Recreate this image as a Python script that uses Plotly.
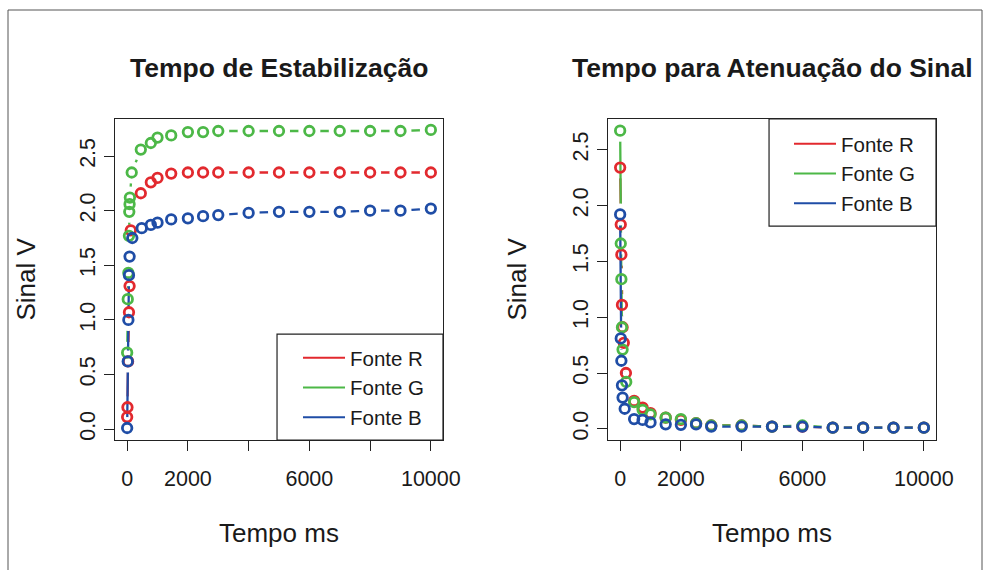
import plotly.graph_objects as go

# ---------------- data ----------------
series_names = ["Fonte R", "Fonte G", "Fonte B"]
colors = ["#E2292E", "#4CB847", "#1F4DA6"]

# Tempo de Estabilização
est_t_r = [0, 10, 30, 60, 80, 120, 450, 780, 1000, 1450, 2000, 2500, 3000, 4000, 5000, 6000, 7000, 8000, 9000, 10000]
est_v_r = [0.11, 0.20, 0.62, 1.07, 1.31, 1.82, 2.16, 2.26, 2.30, 2.34, 2.35, 2.35, 2.35, 2.35, 2.35, 2.35, 2.35, 2.35, 2.35, 2.35]
est_t_g = [0, 20, 40, 60, 70, 80, 90, 150, 450, 780, 1000, 1450, 2000, 2500, 3000, 4000, 5000, 6000, 7000, 8000, 9000, 10000]
est_v_g = [0.70, 1.19, 1.43, 1.77, 1.99, 2.06, 2.12, 2.35, 2.56, 2.62, 2.67, 2.69, 2.72, 2.72, 2.73, 2.73, 2.73, 2.73, 2.73, 2.73, 2.73, 2.74]
est_t_b = [0, 20, 40, 60, 80, 170, 480, 780, 1000, 1450, 2000, 2500, 3000, 4000, 5000, 6000, 7000, 8000, 9000, 10000]
est_v_b = [0.01, 0.62, 1.00, 1.41, 1.58, 1.75, 1.84, 1.87, 1.89, 1.92, 1.93, 1.95, 1.96, 1.98, 1.99, 1.99, 1.99, 2.00, 2.00, 2.02]

# Tempo para Atenuação do Sinal
ate_t_r = [0, 20, 40, 60, 80, 120, 190, 460, 740, 1000, 1500, 2000, 2500, 3000, 4000, 5000, 6000, 7000, 8000, 9000, 10000]
ate_v_r = [2.34, 1.83, 1.56, 1.11, 0.91, 0.77, 0.50, 0.25, 0.19, 0.14, 0.10, 0.08, 0.05, 0.03, 0.03, 0.02, 0.02, 0.01, 0.01, 0.01, 0.01]
ate_t_g = [0, 20, 40, 60, 80, 200, 460, 740, 1000, 1500, 2000, 2500, 3000, 4000, 5000, 6000, 7000, 8000, 9000, 10000]
ate_v_g = [2.67, 1.66, 1.34, 0.91, 0.71, 0.42, 0.24, 0.17, 0.13, 0.10, 0.087, 0.05, 0.03, 0.03, 0.02, 0.03, 0.01, 0.01, 0.01, 0.01]
ate_t_b = [0, 20, 40, 60, 80, 150, 460, 740, 1000, 1500, 2000, 2500, 3000, 4000, 5000, 6000, 7000, 8000, 9000, 10000]
ate_v_b = [1.92, 0.81, 0.61, 0.39, 0.28, 0.18, 0.087, 0.08, 0.057, 0.04, 0.036, 0.04, 0.02, 0.02, 0.02, 0.02, 0.01, 0.01, 0.01, 0.01]

x_tickvals = [0, 2000, 4000, 6000, 8000, 10000]
x_ticktext = ["0", "2000", "", "6000", "", "10000"]
y_tickvals = [0.0, 0.5, 1.0, 1.5, 2.0, 2.5]
y_ticktext = ["0.0", "0.5", "1.0", "1.5", "2.0", "2.5"]

titles = ["Tempo de Estabilização", "Tempo para Atenuação do Sinal"]
x_title = "Tempo ms"
y_title = "Sinal V"

# ---------------- figure ----------------
FONT = "Liberation Sans, Arial, sans-serif"
TXT = "#1a1a1a"
fig = go.Figure()

panels = [
    ("x", "y", [(est_t_r, est_v_r), (est_t_g, est_v_g), (est_t_b, est_v_b)], "legend"),
    ("x2", "y2", [(ate_t_r, ate_v_r), (ate_t_g, ate_v_g), (ate_t_b, ate_v_b)], "legend2"),
]

for xa, ya, data, leg in panels:
    # lines with white gaps around points (R type = "b")
    for (t, v), c in zip(data, colors):
        fig.add_trace(go.Scatter(x=t, y=v, mode="lines", line=dict(color=c, width=2.3),
                                 xaxis=xa, yaxis=ya, showlegend=False, hoverinfo="skip"))
        fig.add_trace(go.Scatter(x=t, y=v, mode="markers",
                                 marker=dict(color="white", size=22, line=dict(width=0)),
                                 xaxis=xa, yaxis=ya, showlegend=False, hoverinfo="skip"))
    for (t, v), c in zip(data, colors):
        fig.add_trace(go.Scatter(x=t, y=v, mode="markers",
                                 marker=dict(symbol="circle-open", color=c, size=9.5,
                                             line=dict(color=c, width=2.8)),
                                 xaxis=xa, yaxis=ya, showlegend=False))
    # legend-only entries
    for name, c in zip(series_names, colors):
        fig.add_trace(go.Scatter(x=[None], y=[None], mode="lines", name=name,
                                 line=dict(color=c, width=2),
                                 xaxis=xa, yaxis=ya, legend=leg, showlegend=True))

ydom = [1 - 440 / 570, 1 - 119 / 570]
axis_common = dict(showgrid=False, zeroline=False, showline=True, mirror=True,
                   linecolor="#222", linewidth=1.2, ticks="outside", ticklen=10,
                   tickcolor="#222", tickwidth=1.2,
                   tickfont=dict(family=FONT, size=21.5, color=TXT))

fig.update_layout(
    width=984, height=570, autosize=False,
    margin=dict(l=0, r=0, t=0, b=0, autoexpand=False),
    paper_bgcolor="white", plot_bgcolor="white",
    xaxis=dict(domain=[115 / 984, 443 / 984], range=[-400, 10400], anchor="y",
               tickvals=x_tickvals, ticktext=x_ticktext, ticklabelstandoff=9, **axis_common),
    yaxis=dict(domain=ydom, range=[-0.10, 2.84], anchor="x",
               tickvals=y_tickvals, ticktext=y_ticktext, tickangle=-90, **axis_common),
    xaxis2=dict(domain=[608 / 984, 936 / 984], range=[-400, 10400], anchor="y2",
                tickvals=x_tickvals, ticktext=x_ticktext, ticklabelstandoff=9, **axis_common),
    yaxis2=dict(domain=ydom, range=[-0.10, 2.775], anchor="x2",
                tickvals=y_tickvals, ticktext=y_ticktext, tickangle=-90, **axis_common),
    legend=dict(x=298 / 984, y=1 - 338 / 570, xanchor="left", yanchor="top",
                bgcolor="rgba(0,0,0,0)", borderwidth=0, itemwidth=42,
                font=dict(family=FONT, size=20.5, color=TXT)),
    legend2=dict(x=789 / 984, y=1 - 124 / 570, xanchor="left", yanchor="top",
                 bgcolor="rgba(0,0,0,0)", borderwidth=0, itemwidth=42,
                 font=dict(family=FONT, size=20.5, color=TXT)),
    showlegend=True,
)

# legend frames
fig.add_shape(type="rect", xref="x domain", yref="y domain", x0=0.494, x1=1.0, y0=0.0, y1=0.33,
              line=dict(color="#222", width=1.2), fillcolor="white", layer="below")
fig.add_shape(type="rect", xref="x2 domain", yref="y2 domain", x0=0.491, x1=1.0, y0=0.666, y1=1.0,
              line=dict(color="#222", width=1.2), fillcolor="white", layer="below")

# outer frame
fig.add_shape(type="rect", xref="paper", yref="paper", x0=8 / 984, x1=982 / 984, y0=-0.05, y1=1 - 10 / 570,
              line=dict(color="#555", width=1))

# titles and axis titles
for xd, title in [("x domain", titles[0]), ("x2 domain", titles[1])]:
    fig.add_annotation(text="<b>" + title + "</b>", xref=xd, yref="paper", x=0.5, y=1 - 68 / 570,
                       showarrow=False, xanchor="center", yanchor="middle",
                       font=dict(family=FONT, size=26.5, color=TXT))
    fig.add_annotation(text=x_title, xref=xd, yref="paper", x=0.5, y=1 - 533 / 570,
                       showarrow=False, xanchor="center", yanchor="middle",
                       font=dict(family=FONT, size=26, color=TXT))

fig.add_annotation(text=y_title, xref="paper", yref="y domain", x=25 / 984, y=0.5, textangle=-90,
                   showarrow=False, xanchor="center", yanchor="middle",
                   font=dict(family=FONT, size=26, color=TXT))
fig.add_annotation(text=y_title, xref="paper", yref="y2 domain", x=516 / 984, y=0.5, textangle=-90,
                   showarrow=False, xanchor="center", yanchor="middle",
                   font=dict(family=FONT, size=26, color=TXT))

fig.write_html("out.html", config={"responsive": False, "displayModeBar": False})

# pin the figure at the window origin at its true size
css = ("<style>html,body{margin:0;padding:0;width:984px;height:570px;overflow:hidden}"
       ".plotly-graph-div{position:fixed !important;left:0;top:0;overflow:hidden}</style>")
with open("out.html", "r", encoding="utf-8") as f:
    html = f.read()
html = html.replace("<head>", "<head>" + css, 1)
with open("out.html", "w", encoding="utf-8") as f:
    f.write(html)
